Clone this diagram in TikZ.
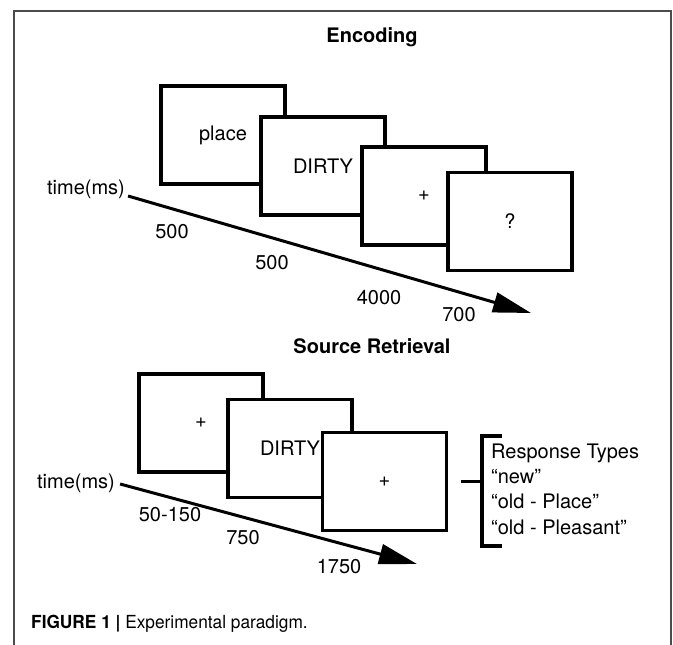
\documentclass[tikz,border=0pt]{standalone}
\usepackage{fontspec}
\setmainfont{TeX Gyre Heros}
\usepackage{tikz}
\usetikzlibrary{arrows.meta}
\tikzstyle{screen} = [rectangle, draw, line width=3.8pt, fill=white, minimum width=124pt, minimum height=98pt, inner sep=0pt, font=\fontsize{20}{24}\selectfont]
\tikzstyle{word} = [inner sep=0pt, font=\fontsize{20}{24}\selectfont]
\tikzstyle{heading} = [inner sep=0pt, font=\fontsize{20}{24}\selectfont\bfseries]
\tikzstyle{timeline} = [draw, line width=3pt, -{Triangle[length=38pt, width=20pt]}]
\tikzstyle{bracket} = [draw, line width=3.5pt]
\tikzstyle{frame} = [draw=black!70, line width=1.5pt]

\begin{document}
\begin{tikzpicture}[x=1pt, y=-1pt]
\useasboundingbox (0,0) rectangle (673,645);
\draw[frame] (14,660) -- (14,11) -- (671,11) -- (671,660);

%% encoding
\node[heading] at (372,37) (enctitle) {Encoding};
\node[screen] at (223,135) (encplace) {place};
\node[screen] at (323,166) (encword) {DIRTY};
\node[screen] at (424,196) (encfix) {+};
\node[screen] at (510,221.5) (encquery) {?};

\node[word] at (86,189) (enctime) {time(ms)};
\coordinate (enctip) at (531,313);
\path[timeline] ([xshift=3, yshift=-7]enctime.east) to (enctip);

\node[word] at (172,232) (encdurA) {500};
\node[word] at (272,263) (encdurB) {500};
\node[word] at (379,298) (encdurC) {4000};
\node[word] at (459,315) (encdurD) {700};

%% source retrieval
\node[heading] at (372,346) (srtitle) {Source Retrieval};
\node[screen] at (201,423) (srfix) {+};
\node[screen] at (290,448.5) (srword) {DIRTY};
\node[screen] at (384.5,481.5) (srresp) {+};

\node[word] at (76,483) (srtime) {time(ms)};
\coordinate (srtip) at (417,564);
\path[timeline] ([xshift=5, yshift=-1]srtime.east) to (srtip);

\node[word] at (170,515) (srdurA) {50-150};
\node[word] at (243,538) (srdurB) {750};
\node[word] at (339,567) (srdurC) {1750};

%% response types
\path[bracket] ([xshift=13]srresp.east) to ++(20,0);
\draw[bracket] (502,436) -- (482,436) -- (482,546) -- (502,546);
\node[word, anchor=west, align=left, font=\fontsize{20}{25.3}\selectfont] at (491,489) (resptypes) {Response Types\\“new”\\“old - Place”\\“old - Pleasant”};

%% caption
\node[inner sep=0pt, anchor=west, xscale=0.96, font=\fontsize{18}{22}\selectfont] at (31,624) (caption) {\textbf{FIGURE 1 |} Experimental paradigm.};
\end{tikzpicture}
\end{document}
